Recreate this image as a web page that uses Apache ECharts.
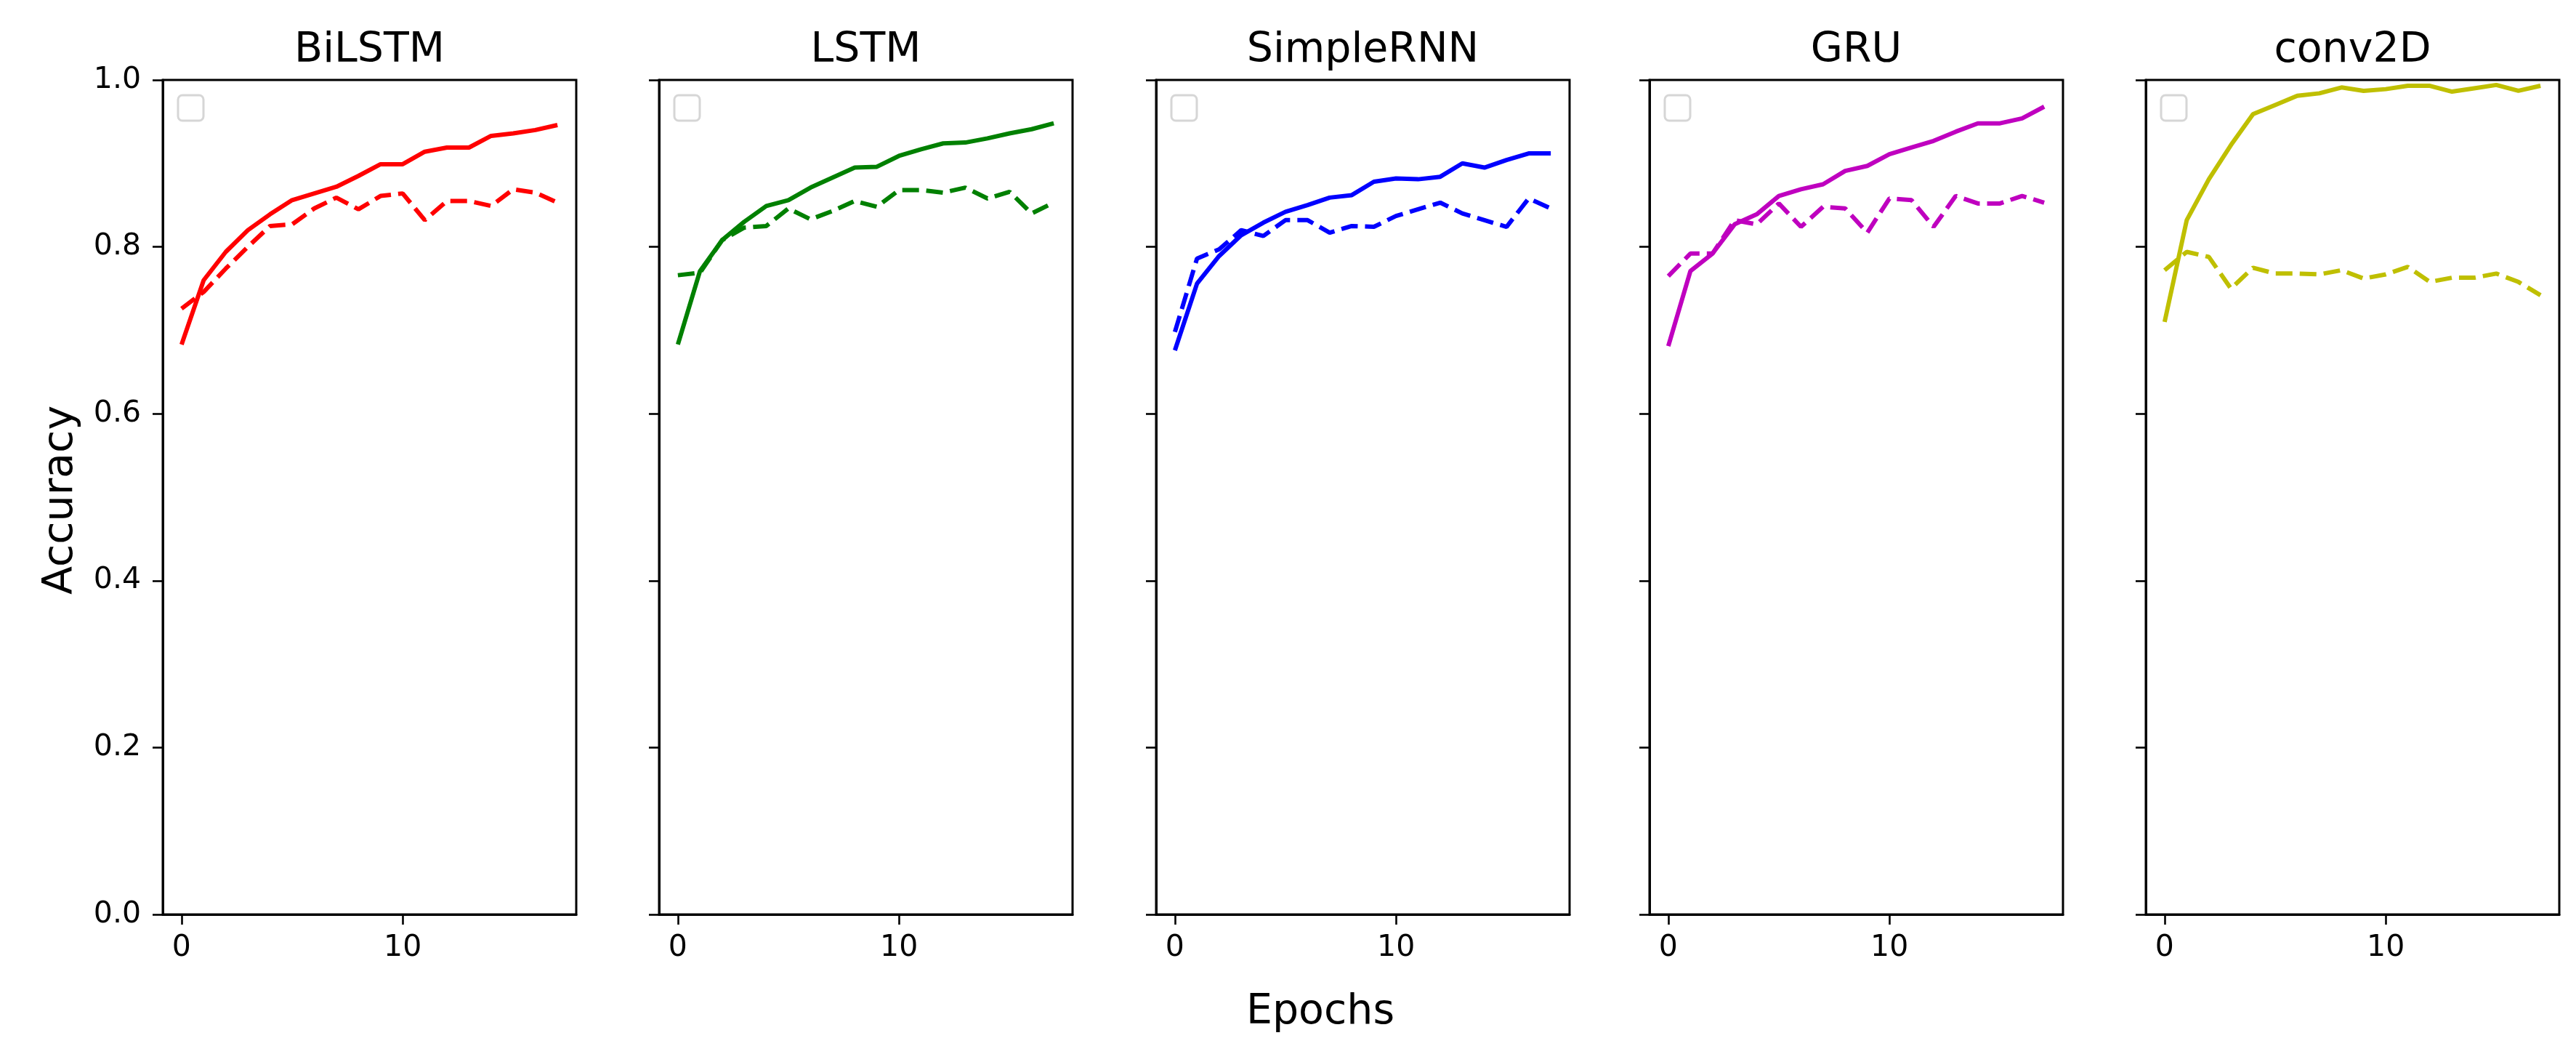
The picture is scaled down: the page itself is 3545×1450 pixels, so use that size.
<!DOCTYPE html>
<html><head><meta charset="utf-8">
<script src="https://cdn.jsdelivr.net/npm/echarts@6/dist/echarts.min.js"></script>
<style>html,body{margin:0;padding:0;background:#fff}#c{width:3545px;height:1450px}</style>
</head><body><div id="c"></div>
<script>
// ---- data ----
const epochs = [0,1,2,3,4,5,6,7,8,9,10,11,12,13,14,15,16,17];
const models = ['BiLSTM','LSTM','SimpleRNN','GRU','conv2D'];
const lineColors = ['#ff0000','#008000','#0000ff','#bf00bf','#bfbf00'];

const bilstmTrain = [0.683,0.760,0.794,0.820,0.839,0.856,0.864,0.872,0.885,0.899,0.899,0.914,0.919,0.919,0.933,0.936,0.940,0.946];
const bilstmVal   = [0.726,0.746,0.774,0.800,0.825,0.827,0.846,0.859,0.845,0.861,0.864,0.832,0.855,0.855,0.849,0.869,0.865,0.853];
const lstmTrain   = [0.683,0.771,0.808,0.830,0.849,0.856,0.871,0.883,0.895,0.896,0.909,0.917,0.924,0.925,0.930,0.936,0.941,0.948];
const lstmVal     = [0.766,0.769,0.808,0.823,0.825,0.846,0.833,0.843,0.855,0.848,0.868,0.868,0.865,0.871,0.858,0.866,0.840,0.853];
const rnnTrain    = [0.676,0.756,0.789,0.814,0.829,0.842,0.850,0.859,0.862,0.878,0.882,0.881,0.884,0.900,0.895,0.904,0.912,0.912];
const rnnVal      = [0.698,0.786,0.797,0.820,0.813,0.832,0.832,0.817,0.825,0.824,0.837,0.845,0.853,0.840,0.832,0.824,0.858,0.846];
const gruTrain    = [0.681,0.771,0.792,0.827,0.839,0.861,0.869,0.875,0.891,0.897,0.911,0.919,0.927,0.938,0.948,0.948,0.954,0.968];
const gruVal      = [0.765,0.792,0.792,0.832,0.827,0.852,0.824,0.848,0.846,0.817,0.858,0.856,0.824,0.861,0.852,0.852,0.861,0.853];
const convTrain   = [0.710,0.832,0.881,0.922,0.959,0.970,0.981,0.984,0.991,0.987,0.989,0.993,0.993,0.986,0.990,0.994,0.987,0.993];
const convVal     = [0.772,0.794,0.788,0.750,0.775,0.768,0.768,0.767,0.772,0.762,0.767,0.776,0.758,0.763,0.763,0.768,0.758,0.742];

const trainSets = [bilstmTrain, lstmTrain, rnnTrain, gruTrain, convTrain];
const valSets   = [bilstmVal, lstmVal, rnnVal, gruVal, convVal];

const yTickValues = [0.0, 0.2, 0.4, 0.6, 0.8, 1.0];
const xTickValues = [0, 10];
const xLabel = 'Epochs';
const yLabel = 'Accuracy';

// ---- layout ----
const gridLefts = [224, 907, 1591, 2270, 2953];
const gridW = 569, gridTop = 110, gridH = 1148;
const FONT = '"DejaVu Sans", sans-serif';

const grid = [], xAxis = [], yAxis = [], series = [], graphic = [];
models.forEach((m, i) => {
  grid.push({left: gridLefts[i], top: gridTop, width: gridW, height: gridH,
    show: true, borderColor: '#000', borderWidth: 3, backgroundColor: 'transparent'});
  xAxis.push({type: 'value', gridIndex: i, min: -0.85, max: 17.85, position: 'bottom',
    axisLine: {show: true, onZero: false, lineStyle: {color: '#000', width: 3}},
    axisTick: {show: true, length: 14, customValues: xTickValues, lineStyle: {color: '#000', width: 2.6}},
    axisLabel: {show: true, customValues: xTickValues, margin: 26, fontSize: 41, fontFamily: FONT, color: '#000'},
    splitLine: {show: false}});
  yAxis.push({type: 'value', gridIndex: i, min: 0, max: 1, interval: 0.2, position: 'left',
    axisLine: {show: true, onZero: false, lineStyle: {color: '#000', width: 3}},
    axisTick: {show: true, length: 14, customValues: yTickValues, lineStyle: {color: '#000', width: 2.6}},
    axisLabel: {show: i === 0, customValues: yTickValues, margin: 30, fontSize: 41, fontFamily: FONT, color: '#000',
      formatter: v => Number(v).toFixed(1)},
    splitLine: {show: false}});
  series.push({type: 'line', xAxisIndex: i, yAxisIndex: i, showSymbol: false, symbol: 'none',
    data: epochs.map((e, k) => [e, trainSets[i][k]]),
    lineStyle: {color: lineColors[i], width: 6, type: 'solid'}, z: 3});
  series.push({type: 'line', xAxisIndex: i, yAxisIndex: i, showSymbol: false, symbol: 'none',
    data: epochs.map((e, k) => [e, valSets[i][k]]),
    lineStyle: {color: lineColors[i], width: 6, type: [23, 10]}, z: 2});
  graphic.push({type: 'text', x: gridLefts[i] + gridW / 2, y: 70,
    style: {text: m, font: '57px ' + FONT, fill: '#000', textAlign: 'center', textVerticalAlign: 'middle', verticalAlign: 'middle'}});
  graphic.push({type: 'rect', shape: {x: gridLefts[i] + 21, y: 131, width: 35, height: 35, r: 6},
    style: {fill: '#fff', stroke: '#d6d6d6', lineWidth: 3}, z: 10});
});
graphic.push({type: 'text', x: 1817, y: 1393,
  style: {text: xLabel, font: '57px ' + FONT, fill: '#000', textAlign: 'center', textVerticalAlign: 'middle', verticalAlign: 'middle'}});
graphic.push({type: 'text', x: 84, y: 688, rotation: Math.PI / 2,
  style: {text: yLabel, font: '57px ' + FONT, fill: '#000', textAlign: 'center', textVerticalAlign: 'middle', verticalAlign: 'middle'}});

const chart = echarts.init(document.getElementById('c'), null, {renderer: 'canvas'});
chart.setOption({animation: false, backgroundColor: '#fff', grid, xAxis, yAxis, series, graphic});
</script></body></html>
